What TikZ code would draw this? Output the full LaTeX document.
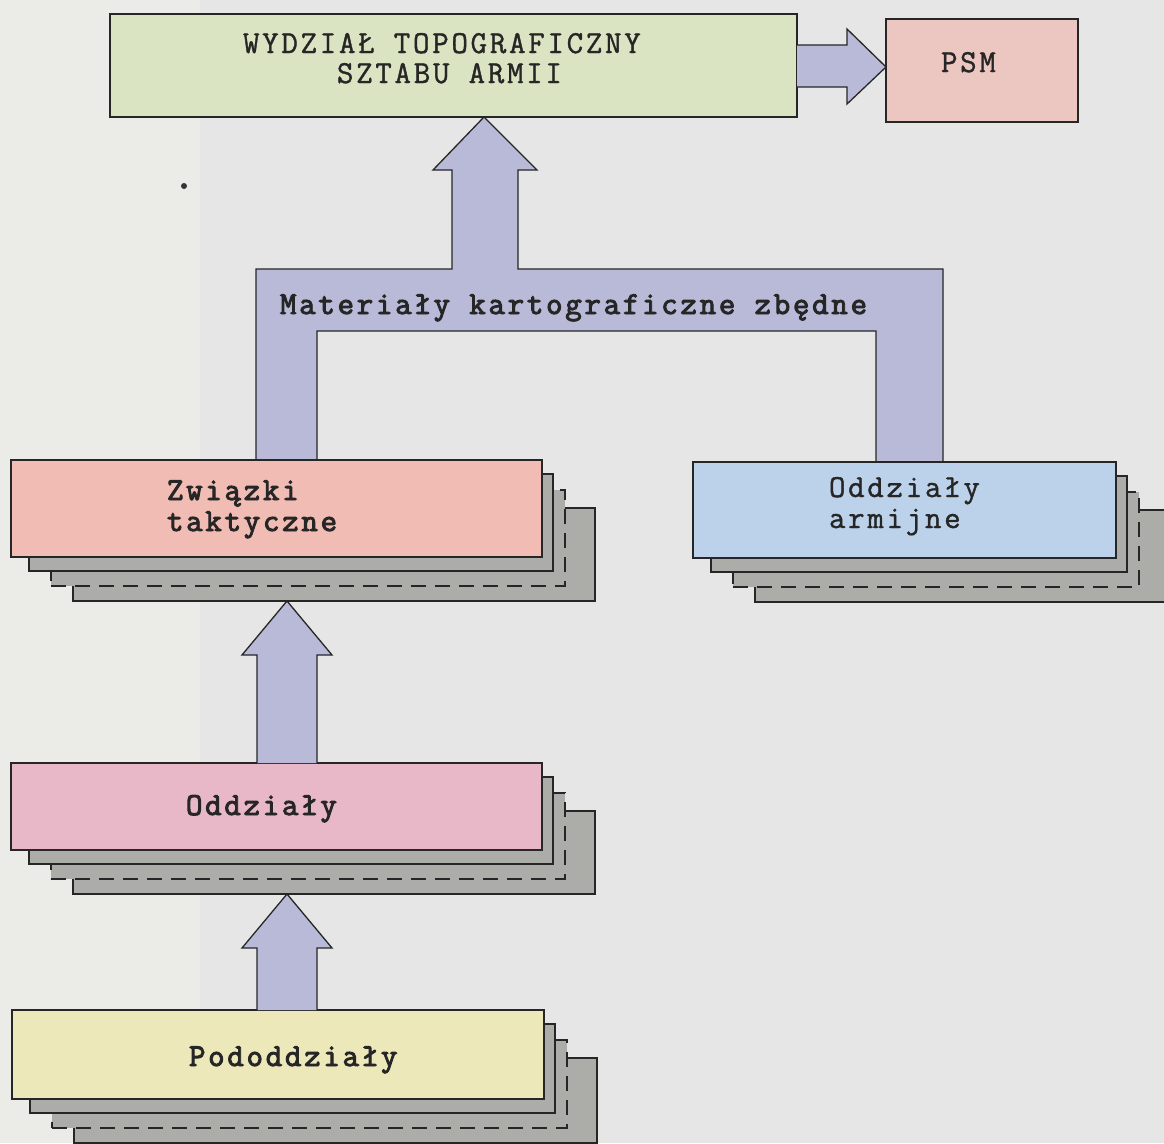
\documentclass[tikz,border=0pt]{standalone}
\usepackage{fontspec}
\newfontfamily\typew{Latin Modern Mono}[LetterSpace=8.5, FakeBold=1.2]
\newfontfamily\typewb{Latin Modern Mono}[LetterSpace=8.5, FakeBold=3]
\usetikzlibrary{fit,calc}

\definecolor{paper}{RGB}{229,230,229}
\definecolor{paperlight}{RGB}{235,235,232}
\definecolor{topfill}{RGB}{218,228,194}
\definecolor{psmfill}{RGB}{236,198,192}
\definecolor{bandfill}{RGB}{184,186,216}
\definecolor{zwifill}{RGB}{240,188,180}
\definecolor{armfill}{RGB}{188,210,234}
\definecolor{oddfill}{RGB}{232,184,200}
\definecolor{podfill}{RGB}{236,232,186}
\definecolor{stackgray}{RGB}{172,172,169}

\tikzset{
  box/.style={draw=black!85, line width=1.3pt, inner sep=0pt, outer sep=0pt},
  pgsolid/.style={box, fill=stackgray},
  pgdashed/.style={pgsolid, dash pattern=on 15pt off 9pt},
  barrow/.style={draw=black!85, line width=1.3pt, fill=bandfill, line join=miter},
  lbl/.style={anchor=base west, inner sep=0pt, outer sep=0pt, text=black!85,
    font=\fontsize{32}{32}\selectfont\typew},
  lblb/.style={lbl, font=\fontsize{32}{32}\selectfont\typewb},
}

% a front sheet with three sheets stacked behind it (name, left, top, right, bottom, colour)
\newcommand\pagestack[6]{%
  \node[pgsolid,  fit={(#2+62,#3+48) (#4+53,#5+44)}] (#1-4) {};
  \node[pgdashed, fit={(#2+40,#3+30) (#4+23,#5+29)}] (#1-3) {};
  \node[pgsolid,  fit={(#2+18,#3+14) (#4+11,#5+14)}] (#1-2) {};
  \node[box, fill=#6, fit={(#2,#3) (#4,#5)}] (#1) {};
}

% upward block arrow from the top of one sheet to the bottom of another stack
\newcommand\blockup[3]{%
  \draw[barrow] let \p1=(#2), \p2=(#3) in
    (#1pt-30pt,\y1) -- (#1pt-30pt,\y2-54pt) -- (#1pt-45pt,\y2-54pt) --
    (#1pt,\y2) -- (#1pt+45pt,\y2-54pt) -- (#1pt+30pt,\y2-54pt) --
    (#1pt+30pt,\y1);
}

\begin{document}
\begin{tikzpicture}[x=1pt,y=-1pt]
  \useasboundingbox (0,0) rectangle (1164,1143);
  \fill[paper] (0,0) rectangle (1164,1143);
  \fill[paperlight] (0,0) rectangle (200,1143);

  % headquarters and PSM
  \node[box, fill=topfill, fit={(110,14) (797,117)}] (top) {};
  \node[box, fill=psmfill, fit={(886,19) (1078,122)}] (psm) {};
  \node[lbl] (toptxt1) at (243,53) {WYDZIAŁ TOPOGRAFICZNY};
  \node[lbl] (toptxt2) at (337,83) {SZTABU ARMII};
  \node[lbl] (psmtxt) at (941,72) {PSM};

  % arrow to PSM
  \draw[barrow] (top.east |- 0,45) -- (847,45) -- (847,29) -- (psm.west |- 0,67)
    -- (847,104) -- (847,87) -- (top.east |- 0,87);

  % tops of the two stacks fed by the collecting band
  \coordinate (zwitop) at (0,460);
  \coordinate (armtop) at (0,462);

  % collecting band with arrow up to the headquarters
  \draw[barrow] (256,0 |- zwitop) -- (256,269) -- (452,269) -- (452,170) -- (433,170)
    -- (484,0 |- top.south) -- (537,170) -- (518,170) -- (518,269) -- (943,269)
    -- (943,0 |- armtop) -- (876,0 |- armtop) -- (876,331) -- (317,331)
    -- (317,0 |- zwitop) -- cycle;
  \node[lblb] (mat) at (280,314) {Materiały kartograficzne zbędne};

  % stacks of units
  \pagestack{zwi}{11}{460}{542}{557}{zwifill}
  \pagestack{arm}{693}{462}{1116}{558}{armfill}
  \pagestack{odd}{11}{763}{542}{850}{oddfill}
  \pagestack{pod}{12}{1010}{544}{1099}{podfill}

  \node[lblb] (zwitxt1) at (167,500) {Związki};
  \node[lblb] (zwitxt2) at (167,531) {taktyczne};
  \node[lbl]  (armtxt1) at (829,497) {Oddziały};
  \node[lbl]  (armtxt2) at (829,528) {armijne};
  \node[lblb] (oddtxt)  at (186,815) {Oddziały};
  \node[lblb] (podtxt)  at (189,1066) {Pododdziały};

  % arrows between the lower stacks
  \blockup{287}{odd.north}{zwi-4.south}
  \blockup{287}{pod.north}{odd-4.south}

  % stray ink dot
  \fill[black!80] (184,186) circle (3);
\end{tikzpicture}
\end{document}
